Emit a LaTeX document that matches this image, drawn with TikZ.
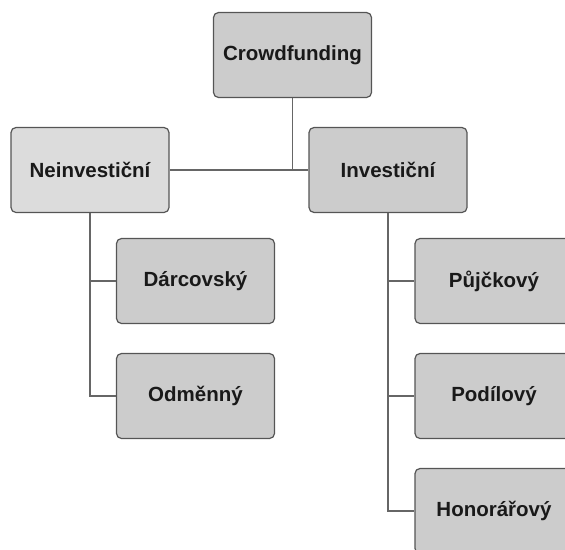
\documentclass[tikz,border=0pt]{standalone}
\usepackage{fontspec}
\setmainfont{Liberation Sans}
\usetikzlibrary{positioning}

\definecolor{boxline}{HTML}{555555}
\definecolor{boxfill}{HTML}{CCCCCC}
\definecolor{boxlight}{HTML}{DCDCDC}
\definecolor{linegray}{HTML}{666666}

\tikzset{
    box/.style={draw=boxline, fill=boxfill, rounded corners=5pt, line width=1.2pt,
        minimum width=158pt, minimum height=85pt, inner sep=0pt,
        font=\fontsize{20.5}{24}\selectfont\bfseries, text=black!90},
    lightbox/.style={box, fill=boxlight},
    link/.style={draw=linegray, line width=1.3pt}
}

\begin{document}
\begin{tikzpicture}[x=1pt, y=-1pt]
    \useasboundingbox (0,0) rectangle (565,549);
    \clip (0,0) rectangle (565,549);

    % Top level
    \node[box] (crowd) at (292.5,55) {Crowdfunding};

    % Second level
    \node[lightbox] (neinv) at (90,170) {Neinvestiční};
    \node[box] (inv) at (388,170) {Investiční};

    % Neinvestiční branch
    \node[box] (darc) at (195.5,281) {Dárcovský};
    \node[box] (odm) at (195.5,396) {Odměnný};

    % Investiční branch
    \node[box] (pujc) at (494,281) {Půjčkový};
    \node[box] (podil) at (494,396) {Podílový};
    \node[box] (honor) at (494,511) {Honorářový};

    % Connectors
    \draw[link] (crowd.south) -- (crowd.south |- neinv.east);
    \draw[link] (neinv.east) -- (inv.west);

    \draw[link] (neinv.south) |- (odm.west);
    \draw[link] (neinv.south |- darc.west) -- (darc.west);

    \draw[link] (inv.south) |- (honor.west);
    \draw[link] (inv.south |- pujc.west) -- (pujc.west);
    \draw[link] (inv.south |- podil.west) -- (podil.west);
\end{tikzpicture}
\end{document}
